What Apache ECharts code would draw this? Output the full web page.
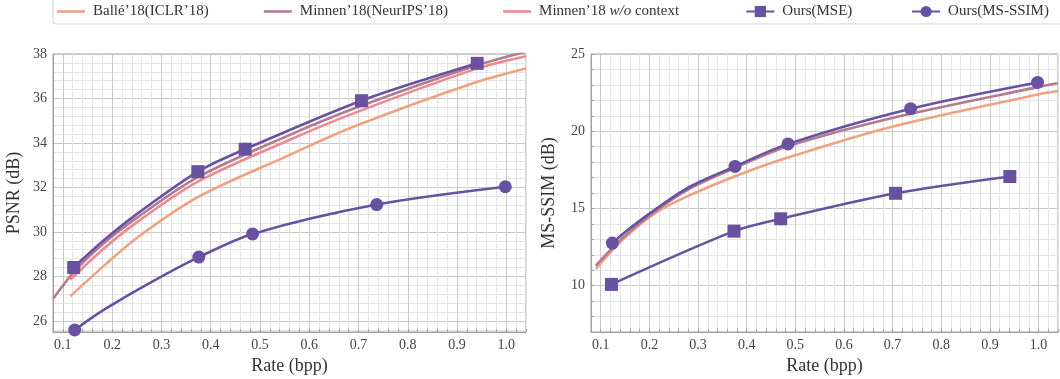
<!DOCTYPE html>
<html><head><meta charset="utf-8">
<script src="https://cdn.jsdelivr.net/npm/echarts@6/dist/echarts.min.js"></script>
<style>html,body{margin:0;padding:0;background:#fff}#c{width:1060px;height:379px}</style>
</head><body><div id="c"></div>
<script>
// ---- series names ----
const nameBalle = 'Ballé’18(ICLR’18)';
const nameMinnen = 'Minnen’18(NeurIPS’18)';
const nameMinnenNoCtx = 'Minnen’18 w/o context';
const nameOursMSE = 'Ours(MSE)';
const nameOursMSSSIM = 'Ours(MS-SSIM)';

// ---- left chart: PSNR ----
const psnrBalleRate = [0.115, 0.182, 0.25, 0.373, 0.555, 0.691, 0.937, 1.04];
const psnrBalle     = [27.10, 28.45, 29.73, 31.55, 33.41, 34.74, 36.72, 37.35];
const psnrMinnenRate = [0.081, 0.123, 0.182, 0.25, 0.373, 0.555, 0.691, 0.937, 1.04];
const psnrMinnen     = [27.02, 28.22, 29.47, 30.63, 32.45, 34.31, 35.55, 37.47, 38.10];
const psnrNoCtxRate = [0.115, 0.182, 0.25, 0.373, 0.555, 0.691, 0.937, 1.04];
const psnrNoCtx     = [27.85, 29.23, 30.43, 32.25, 34.09, 35.34, 37.32, 37.90];
// Ours: marked operating points plus unmarked points
const psnrOursMSERate  = [0.122, 0.182, 0.25, 0.374, 0.470, 0.706, 0.941];
const psnrOursMSE      = [28.40, 29.60, 30.80, 32.71, 33.72, 35.90, 37.58];
const psnrOursMSEMark  = [1, 0, 0, 1, 1, 1, 1];
const psnrOursMSSSIMRate = [0.124, 0.182, 0.284, 0.376, 0.485, 0.737, 0.998];
const psnrOursMSSSIM     = [25.59, 26.48, 27.80, 28.87, 29.91, 31.23, 32.03];
const psnrOursMSSSIMMark = [1, 0, 0, 1, 1, 1, 1];

// ---- right chart: MS-SSIM (dB) ----
const msBalleRate = [0.09, 0.147, 0.216, 0.284, 0.375, 0.48, 0.695, 1.001, 1.04];
const msBalle     = [11.09, 13.04, 14.78, 15.87, 17.07, 18.25, 20.26, 22.39, 22.60];
const msMinnenRate = [0.09, 0.147, 0.216, 0.284, 0.375, 0.489, 0.695, 1.001, 1.04];
const msMinnen     = [11.30, 13.15, 14.90, 16.30, 17.62, 19.07, 20.83, 22.87, 23.10];
const msOursMSERate  = [0.122, 0.374, 0.470, 0.706, 0.941];
const msOursMSE      = [10.08, 13.53, 14.33, 15.98, 17.07];
const msOursMSEMark  = [1, 1, 1, 1, 1];
const msOursMSSSIMRate = [0.124, 0.147, 0.216, 0.284, 0.376, 0.485, 0.737, 0.998];
const msOursMSSSIM     = [12.76, 13.40, 15.02, 16.42, 17.72, 19.18, 21.46, 23.16];
const msOursMSSSIMMark = [1, 0, 0, 0, 1, 1, 1, 1];

// ---- axis ticks ----
const rateTicks = ['0.1','0.2','0.3','0.4','0.5','0.6','0.7','0.8','0.9','1.0'];
const psnrTicks = [26, 28, 30, 32, 34, 36, 38];
const msTicks = [10, 15, 20, 25];

const F = '"Liberation Serif", "DejaVu Serif", serif';
const cOrange = '#efa282', cMauve = '#b27b8f', cPink = '#eb8a92', cPurple = '#6851a0';
const minorC = '#e4e4e4', majorC = '#c9c9c9', frameC = '#a0a0a0', noneC = 'rgba(0,0,0,0)';

const zip = (xs, ys) => xs.map((x, i) => [x, ys[i]]);
const zipMarked = (xs, ys, mk) => xs.map((x, i) => mk[i] ? [x, ys[i]] : { value: [x, ys[i]], symbol: 'none' });
const near = (a, b) => Math.abs(a - b) < 1e-6;

// left y axis: 0.1 steps from 25.5; grid lines every 0.4 (26 major), period of 20 steps
const psnrLineColors = Array.from({ length: 20 }, (_, k) =>
  k === 5 ? majorC : ((k - 1) % 4 === 0 ? minorC : noneC));

function xAxisCfg(gi) {
  return {
    type: 'value', gridIndex: gi, min: 0.08, max: 1.04, interval: 0.02,
    name: 'Rate (bpp)', nameLocation: 'middle', nameGap: 23,
    nameTextStyle: { fontFamily: F, fontSize: 18, color: '#333' },
    axisLine: { show: true, lineStyle: { color: frameC } },
    axisTick: { show: true, inside: true, length: 3, lineStyle: { color: frameC } },
    axisLabel: { fontFamily: F, fontSize: 14, color: '#444', margin: 6,
      formatter: v => { const s = rateTicks.find(t => near(parseFloat(t), v)); return s || ''; } },
    splitLine: { show: true, lineStyle: { color: [minorC, majorC, minorC, minorC, minorC], width: 1 } }
  };
}
function yAxisCfg(gi, name, min, max, interval, ticks, colors, gap, showTick) {
  return {
    type: 'value', gridIndex: gi, min, max, interval,
    name, nameLocation: 'middle', nameGap: gap,
    nameTextStyle: { fontFamily: F, fontSize: 18, color: '#333' },
    axisLine: { show: true, lineStyle: { color: frameC } },
    axisTick: { show: showTick, inside: true, length: 3, lineStyle: { color: frameC } },
    axisLabel: { fontFamily: F, fontSize: 14, color: '#444', margin: 6,
      formatter: v => { const t = ticks.find(t => near(t, v)); return t !== undefined ? String(t) : ''; } },
    splitLine: { show: true, lineStyle: { color: colors, width: 1 } }
  };
}
function base(name, data, color, xi) {
  return { name, type: 'line', xAxisIndex: xi, yAxisIndex: xi, data, smooth: 0.3,
    showSymbol: false, symbol: 'none', lineStyle: { color, width: 2.6 }, itemStyle: { color }, z: 2 };
}
function ours(name, data, sym, size, xi) {
  return { name, type: 'line', xAxisIndex: xi, yAxisIndex: xi, data, smooth: 0.3,
    symbol: sym, symbolSize: size, showSymbol: true,
    lineStyle: { color: cPurple, width: 2.6 }, itemStyle: { color: cPurple }, z: 5 };
}
const lineIcon = 'path://M0,0H28V2.6H0Z';

const chart = echarts.init(document.getElementById('c'), null, { renderer: 'canvas' });
chart.setOption({
  animation: false,
  backgroundColor: '#fff',
  legend: {
    left: 53, top: -4, width: 1200, itemWidth: 28, itemHeight: 14, itemGap: 55,
    padding: [8, 40, 5, 4], borderColor: '#cfcfcf', borderWidth: 1, borderRadius: 3,
    data: [
      { name: nameBalle, icon: lineIcon, itemStyle: { color: cOrange, borderWidth: 0 } },
      { name: nameMinnen, icon: lineIcon, itemStyle: { color: cMauve, borderWidth: 0 } },
      { name: nameMinnenNoCtx, icon: lineIcon, itemStyle: { color: cPink, borderWidth: 0 } },
      nameOursMSE, nameOursMSSSIM
    ],
    formatter: n => n === nameMinnenNoCtx ? 'Minnen’18 {i|w/o} context\u00a0\u00a0\u00a0'
                  : n === nameOursMSE ? 'Ours(MSE)\u00a0' : n,
    textStyle: { fontFamily: F, fontSize: 15, color: '#333', padding: [0, 0, 0, 3],
      rich: { i: { fontFamily: F, fontSize: 15, fontStyle: 'italic', color: '#333' } } }
  },
  grid: [
    { left: 53, top: 54, width: 473, height: 278, show: true, borderColor: frameC, borderWidth: 1,
      backgroundColor: '#fff', outerBoundsMode: 'none', containLabel: false },
    { left: 591, top: 54, width: 467, height: 278, show: true, borderColor: frameC, borderWidth: 1,
      backgroundColor: '#fff', outerBoundsMode: 'none', containLabel: false }
  ],
  xAxis: [xAxisCfg(0), xAxisCfg(1)],
  yAxis: [
    yAxisCfg(0, 'PSNR (dB)', 25.5, 38, 0.1, psnrTicks, psnrLineColors, 30, false),
    yAxisCfg(1, 'MS-SSIM (dB)', 7, 25, 1, msTicks, [minorC, minorC, minorC, majorC, minorC], 33, true)
  ],
  series: [
    base(nameBalle, zip(psnrBalleRate, psnrBalle), cOrange, 0),
    base(nameMinnen, zip(psnrMinnenRate, psnrMinnen), cMauve, 0),
    base(nameMinnenNoCtx, zip(psnrNoCtxRate, psnrNoCtx), cPink, 0),
    ours(nameOursMSE, zipMarked(psnrOursMSERate, psnrOursMSE, psnrOursMSEMark), 'rect', 13, 0),
    ours(nameOursMSSSIM, zipMarked(psnrOursMSSSIMRate, psnrOursMSSSIM, psnrOursMSSSIMMark), 'circle', 13, 0),
    base(nameBalle, zip(msBalleRate, msBalle), cOrange, 1),
    base(nameMinnen, zip(msMinnenRate, msMinnen), cMauve, 1),
    ours(nameOursMSE, zipMarked(msOursMSERate, msOursMSE, msOursMSEMark), 'rect', 13, 1),
    ours(nameOursMSSSIM, zipMarked(msOursMSSSIMRate, msOursMSSSIM, msOursMSSSIMMark), 'circle', 13, 1)
  ]
});
</script></body></html>
